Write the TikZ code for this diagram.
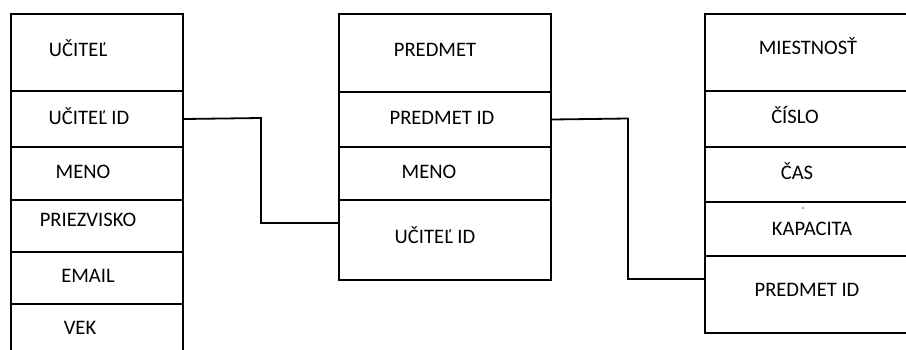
\documentclass[tikz,border=0pt]{standalone}
\usepackage{fontspec}
\setmainfont{Carlito}
\begin{document}
\begin{tikzpicture}[x=1pt,y=-1pt,
  cell/.style={draw=black, line width=2pt, inner sep=0pt, anchor=north west},
  field/.style={anchor=base, inner sep=0pt, text=black,
    font=\fontsize{20.6}{24}\selectfont},
  link/.style={draw=black, line width=1.8pt}]
\clip (0,0) rectangle (906,349);
\fill[white] (0,0) rectangle (906,349);

% --- UČITEĽ table ---
\node[cell, minimum width=172pt, minimum height=77pt] (u0) at (10,13) {};
\node[cell, minimum width=172pt, minimum height=56pt] (u1) at (10,90) {};
\node[cell, minimum width=172pt, minimum height=53pt] (u2) at (10,146) {};
\node[cell, minimum width=172pt, minimum height=52pt] (u3) at (10,199) {};
\node[cell, minimum width=172pt, minimum height=52pt] (u4) at (10,251) {};
\node[cell, minimum width=172pt, minimum height=70pt] (u5) at (10,303) {};
\node[field] (tu0) at (78,56.7) {UČITEĽ};
\node[field] (tu1) at (89,124.7) {UČITEĽ ID};
\node[field] (tu2) at (83,178.7) {MENO};
\node[field] (tu3) at (88,226.7) {PRIEZVISKO};
\node[field] (tu4) at (88,282.7) {EMAIL};
\node[field] (tu5) at (80,334.7) {VEK};

% --- PREDMET table ---
\node[cell, minimum width=212pt, minimum height=78pt] (p0) at (338,13) {};
\node[cell, minimum width=212pt, minimum height=55pt] (p1) at (338,91) {};
\node[cell, minimum width=212pt, minimum height=53pt] (p2) at (338,146) {};
\node[cell, minimum width=212pt, minimum height=80pt] (p3) at (338,199) {};
\node[field] (tp0) at (435,56.7) {PREDMET};
\node[field] (tp1) at (442,124.7) {PREDMET ID};
\node[field] (tp2) at (429,178.7) {MENO};
\node[field] (tp3) at (435,243.7) {UČITEĽ ID};

% --- MIESTNOSŤ table ---
\node[cell, minimum width=230pt, minimum height=77pt] (m0) at (704,13) {};
\node[cell, minimum width=230pt, minimum height=56pt] (m1) at (704,90) {};
\node[cell, minimum width=230pt, minimum height=55pt] (m2) at (704,146) {};
\node[cell, minimum width=230pt, minimum height=54pt] (m3) at (704,201) {};
\node[cell, minimum width=230pt, minimum height=77pt] (m4) at (704,255) {};
\node[field] (tm0) at (808,54.7) {MIESTNOSŤ};
\node[field] (tm1) at (795,123.7) {ČÍSLO};
\node[field] (tm2) at (797,179.7) {ČAS};
\node[field] (tm3) at (812,235.7) {KAPACITA};
\node[field] (tm4) at (807,296.7) {PREDMET ID};
\fill[black!70] (803,208) circle (0.8pt);

% --- relations ---
\coordinate (pin) at (p3.west |- 0,223);
\coordinate (min) at (m4.west |- 0,279);
\draw[link] (u1.east) -- (261,118) |- (pin);
\draw[link] (p1.east) -- (628,118.5) |- (min);
\end{tikzpicture}
\end{document}
